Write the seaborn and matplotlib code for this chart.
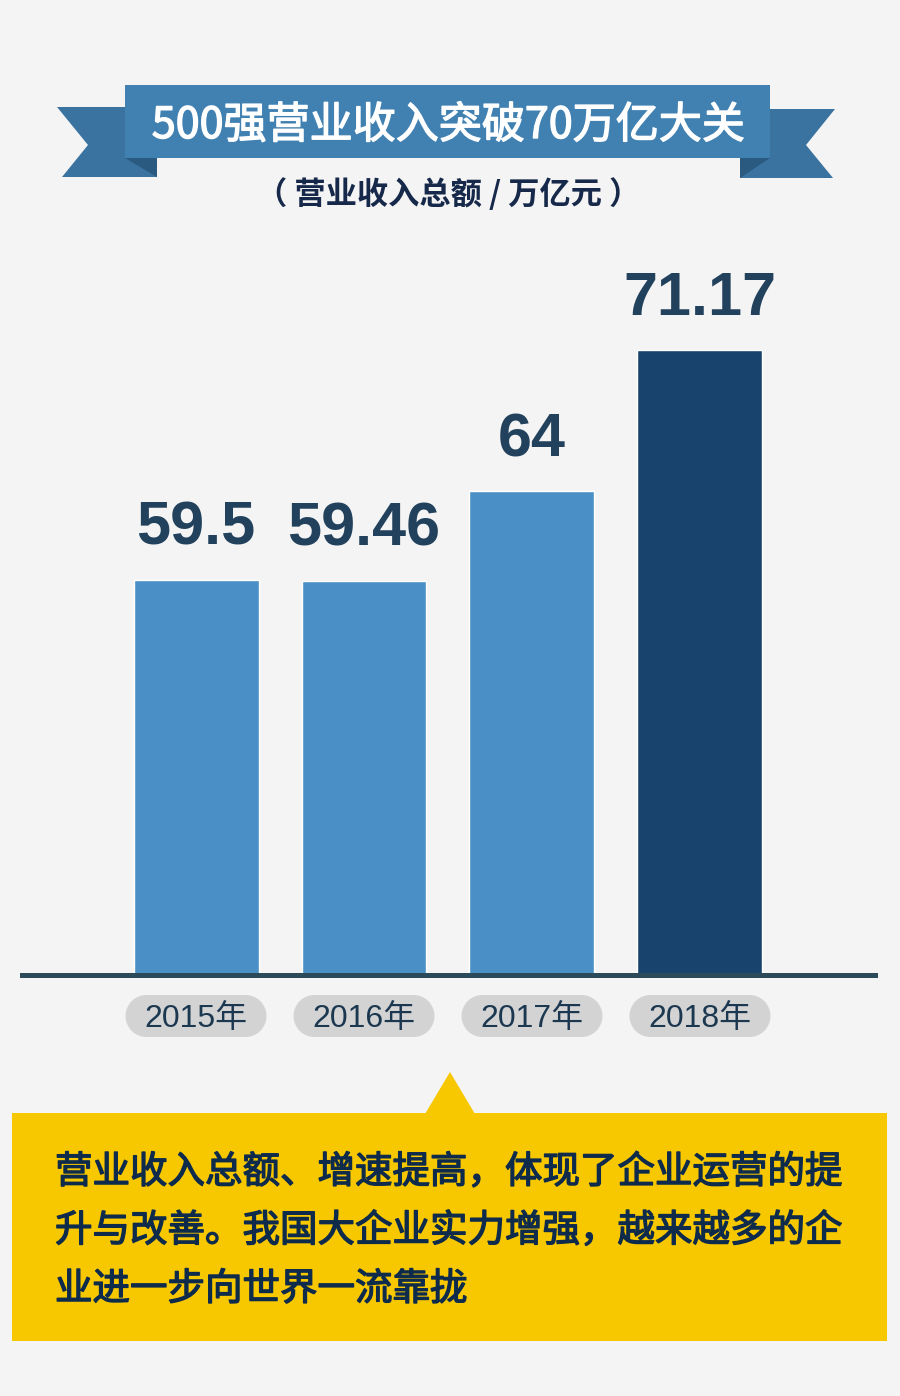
import matplotlib
matplotlib.use("Agg")
import matplotlib.pyplot as plt
import matplotlib.patheffects as pe
import seaborn as sns
import pandas as pd
from matplotlib.patches import Polygon, Rectangle, Circle

# ---------------- data ----------------
years = ["2015年", "2016年", "2017年", "2018年"]
revenue = [59.5, 59.46, 64, 71.17]
value_labels = ["59.5", "59.46", "64", "71.17"]
bar_colors = ["#4a90c7", "#4a90c7", "#4a90c7", "#17436c"]

title_text = "500强营业收入突破70万亿大关"
subtitle_text = "（ 营业收入总额 / 万亿元 ）"
note_lines = [
    "营业收入总额、增速提高，体现了企业运营的提",
    "升与改善。我国大企业实力增强，越来越多的企",
    "业进一步向世界一流靠拢",
]

# ---------------- style ----------------
sns.set_theme(style="white")
plt.rcParams["font.family"] = ["Noto Sans CJK SC", "DejaVu Sans"]

BG = "#f4f4f4"
W, H = 900, 1396
fig = plt.figure(figsize=(W / 100, H / 100), dpi=100, facecolor=BG)

# main chart axes (pixel geometry)
ax_left, ax_right = 22, 875
ax_top, ax_bottom = 250, 974.5
ax = fig.add_axes([ax_left / W, (H - ax_bottom) / H,
                   (ax_right - ax_left) / W, (ax_bottom - ax_top) / H])
ax.set_facecolor("none")

df = pd.DataFrame({"year": years, "revenue": revenue})
sns.barplot(data=df, x="year", y="revenue", hue="year", palette=bar_colors,
            width=0.744, saturation=1, legend=False, ax=ax)

ax.set_xlim(-1.036, 4.042)
ax.set_ylim(39.48, 76.24)
for s in ["top", "left", "right"]:
    ax.spines[s].set_visible(False)
ax.spines["bottom"].set_color("#2b4a5a")
ax.spines["bottom"].set_linewidth(3.6)
ax.spines["bottom"].set_zorder(5)
ax.set_xticks([])
ax.set_yticks([])
ax.set_xlabel("")
ax.set_ylabel("")

for i, (v, lab) in enumerate(zip(revenue, value_labels)):
    ax.annotate(lab, (i, v), xytext=(0, 25.2), textcoords="offset points",
                ha="center", va="baseline", fontsize=44, fontweight="bold",
                family=["Liberation Sans", "DejaVu Sans"], color="#22415c",
                annotation_clip=False)

# ---------------- overlay for decorations (pixel coords) ----------------
ov = fig.add_axes([0, 0, 1, 1], zorder=10)
ov.set_xlim(0, W)
ov.set_ylim(H, 0)
ov.axis("off")
ov.patch.set_visible(False)

# ribbon banner
tail_c = "#3a72a0"
fold_c = "#2b5a80"
main_c = "#4181b2"
ov.add_patch(Polygon([(157, 107), (57, 107), (88, 145), (62, 177), (157, 177)],
                     closed=True, fc=tail_c, ec="none"))
ov.add_patch(Polygon([(740, 109), (835, 109), (806, 145), (833, 178), (740, 178)],
                     closed=True, fc=tail_c, ec="none"))
ov.add_patch(Polygon([(125, 158), (157, 158), (157, 177)], closed=True,
                     fc=fold_c, ec="none"))
ov.add_patch(Polygon([(740, 158), (770, 158), (740, 178)], closed=True,
                     fc=fold_c, ec="none"))
ov.add_patch(Rectangle((125, 85), 645, 73, fc=main_c, ec="none"))
ov.text(448, 138, title_text, ha="center", va="baseline", fontsize=31,
        fontweight="normal", color="white",
        path_effects=[pe.withStroke(linewidth=1.0, foreground="white")])
ov.text(448, 204, subtitle_text, ha="center", va="baseline", fontsize=22.5,
        fontweight="bold", color="#16294a")

# year pills positioned from the bar axis scale
fig.canvas.draw()
pill_c = "#d3d3d3"
for i, yr in enumerate(years):
    cx = ax.transData.transform((i, 50))[0]
    pw, ph, py = 141, 42, 995
    r = ph / 2
    ov.add_patch(Rectangle((cx - pw / 2 + r, py), pw - ph, ph, fc=pill_c, ec="none"))
    ov.add_patch(Circle((cx - pw / 2 + r, py + r), r, fc=pill_c, ec="none"))
    ov.add_patch(Circle((cx + pw / 2 - r, py + r), r, fc=pill_c, ec="none"))
    ov.text(cx, 1027, yr, ha="center", va="baseline", fontsize=23,
            family=["Liberation Sans", "Noto Sans CJK SC"], color="#1b3850")

# yellow note box with pointer
yellow = "#f7c800"
ov.add_patch(Rectangle((12, 1113), 875, 228, fc=yellow, ec="none"))
ov.add_patch(Polygon([(425, 1114), (450, 1072), (475, 1114)], closed=True,
                     fc=yellow, ec="none"))
for k, line in enumerate(note_lines):
    ov.text(55, 1183 + k * 58.5, line, ha="left", va="baseline", fontsize=27,
            fontweight="normal", color="#0f2b4c",
            path_effects=[pe.withStroke(linewidth=1.0, foreground="#0f2b4c")])

fig.savefig("out.png", dpi=100, facecolor=BG)
